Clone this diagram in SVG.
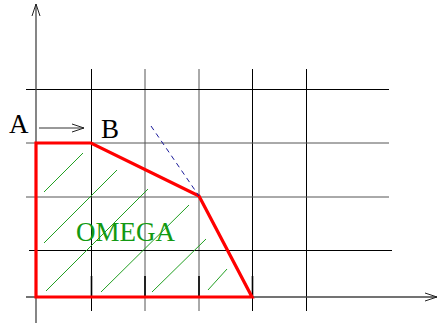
<svg xmlns="http://www.w3.org/2000/svg" width="438" height="325" viewBox="0 0 438 325">
<style>
.grid{stroke:#000;stroke-width:1;fill:none}
.axis{stroke:#444;stroke-width:1.3;fill:none}
.hatch{stroke:#22a022;stroke-width:1;fill:none}
.lbl{font-family:"Liberation Serif",serif;font-size:27px}
</style>
<defs>
<marker id="open" markerWidth="14" markerHeight="10" refX="12" refY="5" orient="auto" markerUnits="userSpaceOnUse">
<path d="M0,1 L12,5 L0,9" fill="none" stroke="#222" stroke-width="1"/>
</marker>
</defs>
<rect width="438" height="325" fill="#fff"/>
<g id="grid">
<line class="grid" x1="91.5" y1="69" x2="91.5" y2="311"/>
<line class="grid" x1="145" y1="69" x2="145" y2="311" style="stroke:#555"/>
<line class="grid" x1="199" y1="69" x2="199" y2="311" style="stroke:#555"/>
<line class="grid" x1="252.5" y1="69" x2="252.5" y2="311"/>
<line class="grid" x1="306.5" y1="69" x2="306.5" y2="311"/>
<line class="grid" x1="26" y1="89.5" x2="389" y2="89.5"/>
<line class="grid" x1="26" y1="143" x2="389" y2="143" style="stroke:#555"/>
<line class="grid" x1="26" y1="197" x2="389" y2="197" style="stroke:#555"/>
<line class="grid" x1="29" y1="250.5" x2="392" y2="250.5"/>
<line class="grid" x1="91.5" y1="276" x2="91.5" y2="297" style="stroke-width:1.6"/>
<line class="grid" x1="145" y1="276" x2="145" y2="297" style="stroke-width:1.6"/>
<line class="grid" x1="199" y1="276" x2="199" y2="297" style="stroke-width:1.6"/>
<line class="grid" x1="252.5" y1="276" x2="252.5" y2="297" style="stroke-width:1.6"/>
</g>
<g id="axes">
<line class="axis" x1="26" y1="297" x2="437" y2="297" marker-end="url(#open)"/>
<line class="axis" x1="36" y1="323" x2="36" y2="4" marker-end="url(#open)"/>
</g>
<g id="hatching">
<line class="hatch" x1="44" y1="192" x2="83" y2="153"/>
<line class="hatch" x1="44" y1="243" x2="117" y2="170"/>
<line class="hatch" x1="46" y1="291" x2="148" y2="189"/>
<line class="hatch" x1="101" y1="292" x2="189" y2="205"/>
<line class="hatch" x1="152" y1="292" x2="206" y2="239"/>
<line class="hatch" x1="208" y1="290" x2="227" y2="269"/>
</g>
<g id="omega">
<polygon points="36,143 91,143 199,196 252,297 36,297" fill="none" stroke="#ff0000" stroke-width="3.2" stroke-linejoin="miter"/>
<text class="lbl" x="76" y="241" fill="#139a13">OMEGA</text>
</g>
<g id="connectors">
<line x1="151" y1="126" x2="199" y2="196" stroke="#1a1a9a" stroke-width="1" stroke-dasharray="5,4"/>
<line x1="39" y1="128" x2="84" y2="128" stroke="#333" stroke-width="1" marker-end="url(#open)"/>
</g>
<g id="A"><text class="lbl" x="9" y="133">A</text></g>
<g id="B"><text class="lbl" x="101" y="138">B</text></g>
</svg>
